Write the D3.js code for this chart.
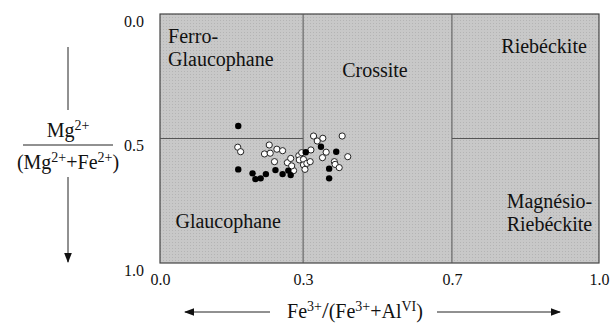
<!DOCTYPE html>
<html>
<head>
<meta charset="utf-8">
<script src="https://cdn.jsdelivr.net/npm/d3@7"></script>
<style>
  body { margin: 0; background: #fff; }
  svg text { font-family: 'Liberation Serif', 'DejaVu Serif', serif !important; fill: #111; }
</style>
</head>
<body>
<div id="chart"></div>
<script>
// data
const xTicks = [0.0, 0.3, 0.7, 1.0];
const yTicks = [0.0, 0.5, 1.0];

// field boundaries: x splits and the 0.5 line (not drawn through Crossite)
const xSplits = [0.3, 0.7];
const ySplit = 0.5;

// filled circles [Fe3+/(Fe3++AlVI), Mg/(Mg+Fe2+)]
const blackX = [0.164, 0.164, 0.194, 0.200, 0.211, 0.222, 0.242, 0.257, 0.269, 0.274, 0.307, 0.348, 0.389, 0.370, 0.370];
const blackY = [0.450, 0.624, 0.640, 0.663, 0.660, 0.643, 0.627, 0.643, 0.629, 0.647, 0.555, 0.533, 0.553, 0.621, 0.660];

// open circles
const whiteX = [0.163, 0.169, 0.229, 0.219, 0.231, 0.245, 0.257, 0.240, 0.267, 0.274, 0.280, 0.276, 0.291, 0.297, 0.292, 0.301,
                0.301, 0.310, 0.319, 0.321, 0.305, 0.328, 0.338, 0.353, 0.405, 0.362, 0.352, 0.384, 0.386, 0.397, 0.420];
const whiteY = [0.535, 0.553, 0.526, 0.562, 0.559, 0.543, 0.549, 0.593, 0.597, 0.580, 0.629, 0.610, 0.569, 0.557, 0.586, 0.584,
                0.606, 0.600, 0.593, 0.546, 0.624, 0.490, 0.510, 0.499, 0.490, 0.555, 0.577, 0.593, 0.604, 0.617, 0.573];

const fieldNames = [["Ferro-", "Glaucophane"], ["Crossite"], ["Riebéckite"], ["Glaucophane"], ["Magnésio-", "Riebéckite"]];

// layout
const W = 612, H = 324;
const margin = {top: 14, right: 13, bottom: 61, left: 160};
const pw = W - margin.left - margin.right;
const ph = H - margin.top - margin.bottom;
const serif = "'Liberation Serif', 'DejaVu Serif', serif";

const svg = d3.select('#chart').append('svg')
    .attr('width', W)
    .attr('height', H)
    .style('font-family', serif);

const defs = svg.append('defs');
defs.append('marker')
    .attr('id', 'head')
    .attr('viewBox', '0 0 10 10')
    .attr('refX', 9).attr('refY', 5)
    .attr('markerWidth', 10).attr('markerHeight', 10)
    .attr('markerUnits', 'userSpaceOnUse')
    .attr('orient', 'auto-start-reverse')
    .append('path')
    .attr('d', 'M0,1.2 L10,5 L0,8.8 Z')
    .attr('fill', '#111');

// screened grey
let pat = defs.append('pattern')
    .attr('id', 'screen')
    .attr('width', 3).attr('height', 3)
    .attr('patternUnits', 'userSpaceOnUse');
pat.append('rect').attr('width', 3).attr('height', 3).attr('fill', '#c8c8c8');
pat.append('rect').attr('width', 1).attr('height', 1).attr('fill', '#b4b4b4');

const g = svg.append('g')
    .attr('transform', `translate(${margin.left},${margin.top})`);

// x is split in three equal-ish columns for 0-0.3, 0.3-0.7, 0.7-1.0
let x = d3.scaleLinear()
    .domain(xTicks)
    .range([0, pw * 0.326, pw * 0.665, pw]);
let y = d3.scaleLinear()
    .domain([0, 1])
    .range([0, ph]);

g.append('rect')
    .attr('width', pw)
    .attr('height', ph)
    .attr('fill', 'url(#screen)')
    .attr('stroke', '#444')
    .attr('stroke-width', 1.2);

// boundaries
g.selectAll('.vsplit')
    .data(xSplits)
    .enter()
    .append('line')
    .attr('class', 'vsplit')
    .attr('x1', d => x(d)).attr('x2', d => x(d))
    .attr('y1', 0).attr('y2', ph)
    .attr('stroke', '#555');

g.selectAll('.hsplit')
    .data([[0, xSplits[0]], [xSplits[1], 1]])
    .enter()
    .append('line')
    .attr('class', 'hsplit')
    .attr('x1', d => x(d[0])).attr('x2', d => x(d[1]))
    .attr('y1', y(ySplit)).attr('y2', y(ySplit))
    .attr('stroke', '#555');

// axes (labels only)
g.append('g')
    .attr('transform', `translate(0,${ph + 8})`)
    .call(d3.axisBottom(x).tickValues(xTicks).tickSize(0).tickFormat(d3.format('.1f')))
    .call(a => a.attr('font-family', null).attr('font-size', null))
    .call(a => a.select('.domain').remove())
    .selectAll('text')
    .style('font-family', serif)
    .attr('font-size', 16)
    .attr('fill', '#111');

g.append('g')
    .attr('transform', 'translate(-13,0)')
    .call(d3.axisLeft(y).tickValues(yTicks).tickSize(0).tickFormat(d3.format('.1f')))
    .call(a => a.attr('font-family', null).attr('font-size', null))
    .call(a => a.select('.domain').remove())
    .selectAll('text')
    .style('font-family', serif)
    .attr('font-size', 16)
    .attr('dy', '0.75em')
    .attr('fill', '#111');

// field names
const fieldPos = [
    {x: 0.017, y: 0.116, anchor: 'start'},
    {x: 0.493, y: 0.253, anchor: 'middle'},
    {x: 0.888, y: 0.157, anchor: 'middle'},
    {x: 0.143, y: 0.859, anchor: 'middle'},
    {x: 0.899, y: 0.779, anchor: 'middle'}
];
fieldNames.forEach((lines, i) => {
    let p = fieldPos[i];
    let t = g.append('text')
        .attr('x', x(p.x))
        .attr('y', y(p.y))
        .attr('text-anchor', p.anchor)
        .style('font-family', serif)
        .attr('font-size', 20);
    lines.forEach((s, j) => {
        t.append('tspan')
            .attr('x', x(p.x))
            .attr('dy', j === 0 ? 0 : 23)
            .text(s);
    });
});

// points
g.selectAll('.open')
    .data(whiteX.map((v, i) => [v, whiteY[i]]))
    .enter()
    .append('circle')
    .attr('class', 'open')
    .attr('cx', d => x(d[0]))
    .attr('cy', d => y(d[1]))
    .attr('r', 3.1)
    .attr('fill', '#fff')
    .attr('stroke', '#222')
    .attr('stroke-width', 1);

g.selectAll('.solid')
    .data(blackX.map((v, i) => [v, blackY[i]]))
    .enter()
    .append('circle')
    .attr('class', 'solid')
    .attr('cx', d => x(d[0]))
    .attr('cy', d => y(d[1]))
    .attr('r', 3.2)
    .attr('fill', '#000');

// y axis title
const ly = svg.append('g');
ly.append('line')
    .attr('x1', 68).attr('x2', 68)
    .attr('y1', 47).attr('y2', 110)
    .attr('stroke', '#222');
ly.append('line')
    .attr('x1', 68).attr('x2', 68)
    .attr('y1', 177).attr('y2', 262)
    .attr('stroke', '#222')
    .attr('marker-end', 'url(#head)');
ly.append('line')
    .attr('x1', 23).attr('x2', 113)
    .attr('y1', 145).attr('y2', 145)
    .attr('stroke', '#222');

let num = ly.append('text')
    .attr('x', 68).attr('y', 137)
    .attr('text-anchor', 'middle')
    .style('font-family', serif)
    .attr('font-size', 20);
num.append('tspan').text('Mg');
num.append('tspan').attr('font-size', 14).attr('dy', -7).text('2+');

let den = ly.append('text')
    .attr('x', 68).attr('y', 169)
    .attr('text-anchor', 'middle')
    .style('font-family', serif)
    .attr('font-size', 20);
den.append('tspan').text('(Mg');
den.append('tspan').attr('font-size', 14).attr('dy', -7).text('2+');
den.append('tspan').attr('dy', 7).text('+Fe');
den.append('tspan').attr('font-size', 14).attr('dy', -7).text('2+');
den.append('tspan').attr('dy', 7).text(')');

// x axis title
const lx = svg.append('g');
lx.append('line')
    .attr('x1', 270).attr('x2', 185)
    .attr('y1', 312).attr('y2', 312)
    .attr('stroke', '#222')
    .attr('marker-end', 'url(#head)');
lx.append('line')
    .attr('x1', 437).attr('x2', 560)
    .attr('y1', 312).attr('y2', 312)
    .attr('stroke', '#222')
    .attr('marker-end', 'url(#head)');

let xt = lx.append('text')
    .attr('x', 355).attr('y', 318)
    .attr('text-anchor', 'middle')
    .style('font-family', serif)
    .attr('font-size', 20);
xt.append('tspan').text('Fe');
xt.append('tspan').attr('font-size', 14).attr('dy', -7).text('3+');
xt.append('tspan').attr('dy', 7).attr('font-size', 24).text('/');
xt.append('tspan').text('(Fe');
xt.append('tspan').attr('font-size', 14).attr('dy', -7).text('3+');
xt.append('tspan').attr('dy', 7).text('+Al');
xt.append('tspan').attr('font-size', 14).attr('dy', -7).text('VI');
xt.append('tspan').attr('dy', 7).text(')');
</script>
</body>
</html>
